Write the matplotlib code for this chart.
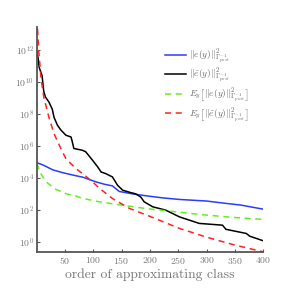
import matplotlib
matplotlib.use("Agg")
import matplotlib.pyplot as plt
import numpy as np

plt.rcParams["mathtext.fontset"] = "cm"
plt.rcParams["font.family"] = "serif"
plt.rcParams["font.serif"] = ["cmr10", "DejaVu Serif"]
plt.rcParams["axes.formatter.use_mathtext"] = True

# data (log10 of the value)
blue_x = [1, 12, 29, 47, 65, 82, 93, 105, 120, 134, 146, 169, 193, 222, 252, 300,
          330, 360, 400]
blue_log = [4.95, 4.8, 4.5, 4.32, 4.17, 4.04, 3.9, 3.75, 3.6, 3.5, 3.15, 3.0, 2.88,
            2.75, 2.65, 2.55, 2.42, 2.3, 2.04]

black_x = [1, 3, 5, 10, 13, 16, 22, 28, 31, 37, 43, 52, 61, 63, 66, 81, 87, 99, 108,
           114, 122, 134, 143, 152, 164, 175, 184, 190, 205, 228, 240, 252, 287,
           328, 334, 370, 376, 400]
black_log = [11.9, 11.5, 10.9, 10.4, 9.4, 9.06, 8.75, 8.3, 7.8, 7.3, 7.0, 6.67, 6.56,
             6.3, 5.84, 5.73, 5.63, 5.1, 4.69, 4.37, 4.27, 4.06, 3.54, 3.23, 3.1,
             3.0, 2.8, 2.5, 2.19, 1.98, 1.77, 1.56, 1.15, 1.04, 0.78, 0.52, 0.35, 0.06]

green_x = [1, 6, 17, 35, 53, 70, 81, 111, 152, 193, 252, 300, 349, 400]
green_log = [4.9, 4.37, 3.75, 3.27, 3.0, 2.86, 2.72, 2.5, 2.29, 2.08, 1.85, 1.67,
             1.52, 1.4]

red_x = [1, 4, 8, 13, 22, 31, 43, 52, 69, 87, 99, 111, 134, 164, 205, 252, 299,
         349, 400]
red_log = [14.0, 12.0, 10.3, 9.06, 7.8, 6.78, 5.84, 5.2, 4.6, 4.1, 3.75, 3.35, 2.71,
           2.09, 1.52, 0.84, 0.3, -0.2, -0.63]

labels = [
    r"$\|e(y)\|^2_{\Gamma^{-1}_{post}}$",
    r"$\|\tilde{e}(y)\|^2_{\Gamma^{-1}_{post}}$",
    r"$E_y\left[\|e(y)\|^2_{\Gamma^{-1}_{post}}\right]$",
    r"$E_y\left[\|\tilde{e}(y)\|^2_{\Gamma^{-1}_{post}}\right]$",
]

fig = plt.figure(figsize=(2.91, 2.91), dpi=100)
ax = fig.add_axes([0.127, 0.134, 0.778, 0.773])

ax.plot(blue_x, 10 ** np.array(blue_log), color="#2b3bff", lw=1.1, label=labels[0])
ax.plot(black_x, 10 ** np.array(black_log), color="black", lw=1.1, label=labels[1])
ax.plot(green_x, 10 ** np.array(green_log), color="#66ee22", lw=1.1,
        ls=(0, (4, 3)), label=labels[2])
ax.plot(red_x, 10 ** np.array(red_log), color="#ff2222", lw=1.1,
        ls=(0, (4, 3)), label=labels[3])

ax.set_yscale("log")
ax.set_xlim(1, 400)
ax.set_ylim(10 ** -0.64, 10 ** 13.44)
ax.set_xticks([50, 100, 150, 200, 250, 300, 350, 400])
ax.set_yticks([1e0, 1e2, 1e4, 1e6, 1e8, 1e10, 1e12])
ax.minorticks_off()
ax.tick_params(direction="in", length=2, width=0.8, colors="#555555",
               labelsize=7, labelcolor="#777777", pad=2)

for side in ("top", "right"):
    ax.spines[side].set_visible(False)
for side in ("left", "bottom"):
    ax.spines[side].set_color("#555555")
    ax.spines[side].set_linewidth(1.3)

ax.set_xlabel("order of approximating class", fontsize=9.8, color="#777777", labelpad=2)

leg = ax.legend(loc="upper left", bbox_to_anchor=(0.55, 0.93), frameon=False,
                fontsize=6.8, handlelength=2.2, labelspacing=0.05, handletextpad=0.3,
                borderaxespad=0)
for t in leg.get_texts():
    t.set_color("#666666")

fig.savefig("out.png", dpi=100)
